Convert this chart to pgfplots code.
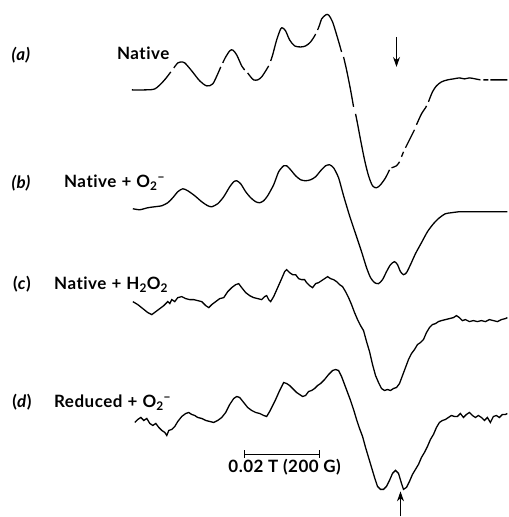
\documentclass[border=0pt]{standalone}
\usepackage{fontspec}
\setmainfont{Lato}[LetterSpace=3, Ligatures=NoCommon]
\usepackage{pgfplots}
\pgfplotsset{compat=1.18}
\usetikzlibrary{arrows.meta}
\newcommand{\lab}{\fontsize{17}{20}\selectfont\bfseries}
\newcommand{\pl}{\hspace{0.3em}+\hspace{0.3em}}
\begin{document}
\begin{tikzpicture}
\begin{axis}[
  width=508pt, height=517pt, scale only axis,
  xmin=0, xmax=508, ymin=-517, ymax=0,
  hide axis, clip=false,
  unbounded coords=jump,
  y filter/.expression={-y},
]
\path (rel axis cs:0,0) rectangle (rel axis cs:1,1);
% (a) Native -- broken trace
\addplot[black, line width=1.3pt, smooth, tension=0.5] table {
x y
132 90
145 90
155 89
163 82
168 76
171 72
nan nan
174 68
178 63
181 62
185 63
192 71
200 81
207 86
213 84
218 74
221 67
nan nan
223 63
226 57
230 51
233 50
237 55
242 66
245 70
nan nan
248 73
251 77
254 80
258 80
262 77
266 71
269 66
nan nan
271 61
273 55
277 40
281 29
283 28
286 31
290 40
295 46
301 47
306 46
311 42
315 36
316 34
nan nan
318 30
320 25
322 19
326 15
329 15
333 22
338 38
342 52
nan nan
344 57
347 70
351 90
354 107
nan nan
356 114
358 124
361 140
365 160
369 176
373 186
377 188
381 185
386 178
390 170
nan nan
392 168
397 166
400 162
nan nan
402 157
404 152
nan nan
406 148
410 140
414 132
415 130
nan nan
417 125
422 114
426 108
427 106
nan nan
429 102
433 92
437 86
442 82
448 80
454 79
460 78
465 79
470 78
476 79
481 80
nan nan
484 80
489 80
nan nan
491 80
500 80
508 80
};
% (b) Native + O2-
\addplot[black, line width=1.3pt, smooth, tension=0.4] table {
x y
133 209
140 210
148 208
155 207
162 206
168 203
173 198
178 192
183 189
188 191
195 196
202 202
208 206
212 207
218 204
224 197
230 187
234 182
237 181
241 184
246 192
251 198
256 202
260 203
264 201
268 196
274 185
279 172
284 166
287 166
291 170
296 176
301 180
306 181
311 180
316 177
321 171
326 166
330 165
334 168
339 178
344 196
350 216
356 234
362 252
367 268
371 278
375 283
379 284
383 280
387 272
391 265
395 262
398 265
401 272
404 275
407 273
411 265
416 254
422 243
428 232
434 224
440 218
446 214
452 213
460 212
470 212
480 212
490 212
500 212
508 212
};
% (c) Native + H2O2
\addplot[black, line width=1.3pt] table {
x y
133 302
138 305
143 309
148 313
152 315
156 312
160 309
164 306
168 302
170 304
172 300
175 302
178 298
182 297
186 299
190 300
194 300
198 301
202 302
206 306
209 308
212 305
216 302
220 299
224 298
228 292
232 288
236 285
239 284
242 288
246 293
250 296
254 298
258 299
262 300
265 297
267 296
269 300
271 302
274 297
278 288
282 279
285 272
287 270
290 273
293 275
296 275
299 279
302 280
305 280
307 283
310 286
313 288
316 284
319 283
322 281
325 279
328 277
331 279
334 280
337 282
340 285
343 287
346 292
349 298
352 305
355 313
358 320
361 326
364 331
367 342
370 352
373 365
376 376
379 383
382 389
385 391
388 390
391 391
394 389
397 388
400 384
403 376
406 368
409 360
412 354
415 350
418 345
421 343
424 340
427 333
430 328
433 325
436 324
439 322
442 321
446 320
450 319
454 318
457 316
460 318
463 321
466 320
470 322
474 321
478 322
482 321
486 322
490 320
494 321
498 322
502 320
506 319
508 318
};
% (d) Reduced + O2-
\addplot[black, line width=1.3pt] table {
x y
135 423
138 420
141 418
144 421
147 419
150 424
153 426
156 424
159 428
162 431
165 433
167 436
169 431
172 430
175 427
178 422
182 417
186 414
189 413
192 415
195 416
198 418
202 419
206 421
210 422
214 423
218 421
222 418
226 413
230 405
234 399
237 397
240 398
244 403
248 408
252 411
256 413
260 414
264 416
267 417
270 412
273 406
276 400
280 391
284 383
287 384
290 386
294 390
297 393
300 395
303 397
306 396
309 392
312 391
315 389
318 386
321 384
325 380
329 375
333 371
336 370
339 371
342 377
345 385
348 393
351 401
354 410
357 420
360 429
363 437
366 448
369 458
372 468
375 478
378 487
381 490
384 490
387 487
390 481
393 474
396 471
399 474
402 484
404 490
407 488
410 482
413 475
416 470
419 465
422 458
425 453
428 447
431 440
434 435
437 428
440 423
443 421
446 420
449 418
452 416
455 417
458 417
461 414
464 418
467 415
470 413
473 416
476 418
479 416
482 418
485 421
488 418
491 423
494 417
497 416
500 418
503 415
506 415
508 414
};
% arrows
\draw[line width=1.3pt, -{Stealth[length=10pt,width=7pt]}] (axis cs:397,-37) -- (axis cs:397,-67);
\draw[line width=1.3pt, -{Stealth[length=10pt,width=7pt]}] (axis cs:401,-517) -- (axis cs:401,-492);
% scale bar
\draw[line width=1.1pt] (axis cs:245,-455) -- (axis cs:320,-455);
\draw[line width=1.1pt] (axis cs:245,-451) -- (axis cs:245,-459);
\draw[line width=1.1pt] (axis cs:320,-451) -- (axis cs:320,-459);
\node[font=\lab] at (axis cs:285,-468) {0.02 T (200 G)};
% labels
\node[font=\lab\itshape] at (axis cs:21,-55) {(a)};
\node[font=\lab\itshape] at (axis cs:21,-183) {(b)};
\node[font=\lab] at (axis cs:22,-285) {(\textit{c})};
\node[font=\lab] at (axis cs:22,-403) {(\textit{d})};
\node[font=\lab, anchor=west, inner sep=0pt] at (axis cs:117,-53) {Native};
\node[font=\lab, anchor=west, inner sep=0pt] at (axis cs:64,-183) {Native\pl O\textsubscript{2}\textsuperscript{−}};
\node[font=\lab, anchor=west, inner sep=0pt] at (axis cs:54,-285) {Native\pl H\textsubscript{2}O\textsubscript{2}};
\node[font=\lab, anchor=west, inner sep=0pt] at (axis cs:54,-403) {Reduced\pl O\textsubscript{2}\textsuperscript{−}};
\end{axis}
\end{tikzpicture}
\end{document}
